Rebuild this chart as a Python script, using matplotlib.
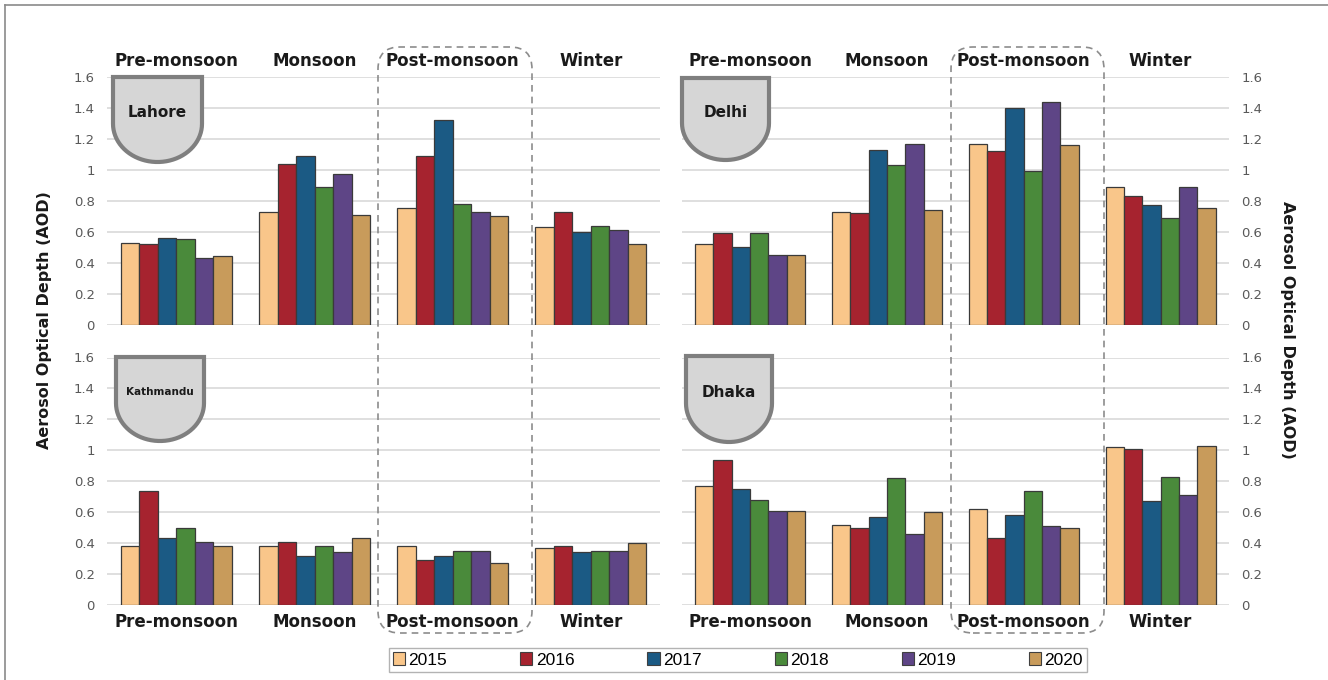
import matplotlib

matplotlib.use("Agg")
import matplotlib.pyplot as plt
import numpy as np
from matplotlib.lines import Line2D
from matplotlib.patches import FancyBboxPatch, Patch, PathPatch
from matplotlib.path import Path

seasons = ["Pre-monsoon", "Monsoon", "Post-monsoon", "Winter"]
years = ["2015", "2016", "2017", "2018", "2019", "2020"]
colors = ["#F9C68A", "#A6232F", "#1B5A84", "#4A8A3B", "#5E4586", "#C89B5B"]

# AOD per season (rows) and year (columns)
lahore = [
    [0.53, 0.52, 0.56, 0.55, 0.43, 0.44],
    [0.73, 1.04, 1.09, 0.89, 0.97, 0.71],
    [0.75, 1.09, 1.32, 0.78, 0.73, 0.70],
    [0.63, 0.73, 0.60, 0.64, 0.61, 0.52],
]
delhi = [
    [0.52, 0.59, 0.50, 0.59, 0.45, 0.45],
    [0.73, 0.72, 1.13, 1.03, 1.17, 0.74],
    [1.17, 1.12, 1.40, 0.99, 1.44, 1.16],
    [0.89, 0.83, 0.77, 0.69, 0.89, 0.75],
]
kathmandu = [
    [0.38, 0.74, 0.43, 0.50, 0.41, 0.38],
    [0.38, 0.41, 0.32, 0.38, 0.34, 0.43],
    [0.38, 0.29, 0.32, 0.35, 0.35, 0.27],
    [0.37, 0.38, 0.34, 0.35, 0.35, 0.40],
]
dhaka = [
    [0.77, 0.94, 0.75, 0.68, 0.61, 0.61],
    [0.52, 0.50, 0.57, 0.82, 0.46, 0.60],
    [0.62, 0.43, 0.58, 0.74, 0.51, 0.50],
    [1.02, 1.01, 0.67, 0.83, 0.71, 1.03],
]
yticks = [0, 0.2, 0.4, 0.6, 0.8, 1.0, 1.2, 1.4, 1.6]
ytick_labels = ["0", "0.2", "0.4", "0.6", "0.8", "1", "1.2", "1.4", "1.6"]

W, H = 1328, 680
fig = plt.figure(figsize=(W / 100, H / 100), dpi=100)
fig.patch.set_facecolor("white")
inch = fig.dpi_scale_trans


def px_axes(x0, y0, x1, y1):
    return fig.add_axes([x0 / W, 1 - y1 / H, (x1 - x0) / W, (y1 - y0) / H])


def px(x, y):
    # pixel position (from top-left) -> inches from bottom-left
    return x / 100, (H - y) / 100


panels = [
    ("Lahore", lahore, (107.4, 77, 660, 324.5), "left", "top", (113, 77, 202, 162), 11),
    ("Delhi", delhi, (681.6, 77, 1229, 324.5), "right", "top", (682, 78, 769, 160), 11),
    ("Kathmandu", kathmandu, (107.4, 357.5, 660, 605), "left", "bottom", (116, 357, 204, 441), 7.5),
    ("Dhaka", dhaka, (681.6, 357.5, 1229, 605), "right", "bottom", (686, 356, 772, 442), 11),
]

bw = 0.134
x = np.arange(len(seasons))
for city, vals, box, yside, xside, badge, bfs in panels:
    ax = px_axes(*box)
    vals = np.array(vals)
    for j, yr in enumerate(years):
        ax.bar(x + (j - 2.5) * bw, vals[:, j], width=bw, color=colors[j],
               edgecolor="#3a3a3a", linewidth=0.9, zorder=3)
    ax.set_xlim(-0.5, 3.5)
    ax.set_ylim(0, 1.6)
    ax.set_yticks(yticks)
    ax.set_yticklabels(ytick_labels)
    ax.grid(axis="y", color="#dcdcdc", linewidth=1.3, zorder=0)
    ax.set_axisbelow(True)
    for s in ax.spines.values():
        s.set_visible(False)
    ax.set_xticks(x)
    ax.set_xticklabels(seasons, fontsize=12, fontweight="bold", color="#1a1a1a")
    if xside == "top":
        ax.xaxis.tick_top()
        ax.tick_params(axis="x", length=0, pad=5)
    else:
        ax.tick_params(axis="x", length=0, pad=6)
    if yside == "right":
        ax.yaxis.tick_right()
    ax.tick_params(axis="y", length=0, pad=9, labelsize=9.5, labelcolor="#595959")
    ax.patch.set_alpha(0)

    # city badge: flat top, rounded bottom
    bx0, by0, bx1, by1 = badge
    a = (bx1 - bx0) / 2
    b = 0.45 * (by1 - by0)
    cx = (bx0 + bx1) / 2
    t = np.linspace(0, np.pi, 40)
    pts = [px(bx0, by0), px(bx1, by0)]
    pts += [px(cx + a * np.cos(tt), by1 - b + b * np.sin(tt)) for tt in t]
    pts.append(px(bx0, by0))
    codes = [Path.MOVETO] + [Path.LINETO] * (len(pts) - 2) + [Path.CLOSEPOLY]
    fig.patches.append(PathPatch(Path(pts, codes), facecolor="#d6d6d6", edgecolor="#7f7f7f",
                                 linewidth=3, transform=inch, zorder=5))
    tx, ty = px(cx, by0 + 0.42 * (by1 - by0))
    fig.text(tx, ty, city, transform=inch, ha="center", va="center", fontsize=bfs,
             fontweight="bold", color="#1a1a1a", zorder=6)

# dashed frames around the post-monsoon season
for x0, x1 in [(378, 532), (951, 1104)]:
    (ix0, iy1), (ix1, iy0) = px(x0, 47), px(x1, 633)
    fig.patches.append(FancyBboxPatch((ix0, iy0), ix1 - ix0, iy1 - iy0,
                                      boxstyle="round,pad=0,rounding_size=0.22",
                                      facecolor="none", edgecolor="#8c8c8c", linewidth=1.2,
                                      linestyle=(0, (4, 3)), transform=inch, zorder=4))

# outer frame (left and top edges visible)
fig.lines.append(Line2D([5 / W, 5 / W], [0, 1 - 5 / H], transform=fig.transFigure,
                        color="#8a8a8a", linewidth=1.2))
fig.lines.append(Line2D([5 / W, 1], [1 - 5 / H, 1 - 5 / H], transform=fig.transFigure,
                        color="#8a8a8a", linewidth=1.2))

fig.text(45 / W, 1 - 320 / H, "Aerosol Optical Depth (AOD)", rotation=90, ha="center",
         va="center", fontsize=11.5, fontweight="bold", color="#1a1a1a")
fig.text(1288 / W, 1 - 330 / H, "Aerosol Optical Depth (AOD)", rotation=-90, ha="center",
         va="center", fontsize=11.5, fontweight="bold", color="#1a1a1a")

handles = [Patch(facecolor=c, edgecolor="#404040", linewidth=0.8) for c in colors]
fig.legend(handles, years, loc="center", bbox_to_anchor=(738 / W, 1 - 660 / H), ncol=6,
           frameon=True, fancybox=False, edgecolor="#a0a0a0", handlelength=0.7,
           handleheight=0.7, handletextpad=0.2, columnspacing=4.2, borderpad=0.25,
           prop={"family": "Liberation Sans", "size": 12.5})

fig.savefig("out.png", dpi=100)
